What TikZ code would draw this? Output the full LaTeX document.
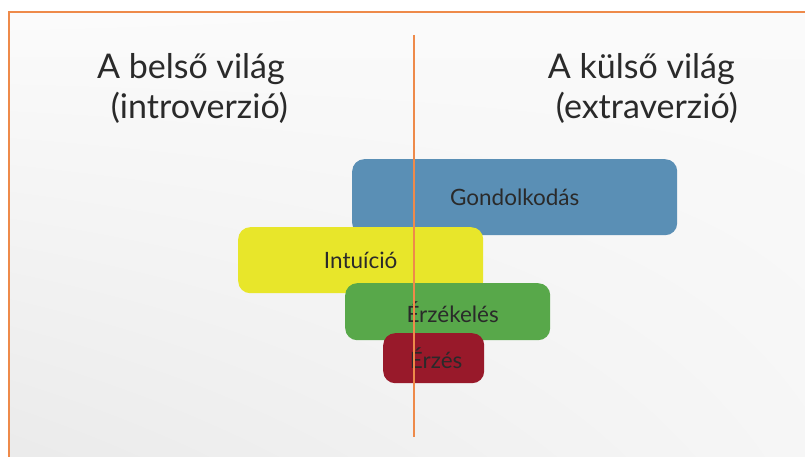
\documentclass[tikz,border=0pt]{standalone}
\usepackage{fontspec}
\usetikzlibrary{shadings}
\setmainfont{Lato}
\definecolor{rahmen}{HTML}{EE8A4A}
\definecolor{denken}{HTML}{5A8FB5}
\definecolor{intui}{HTML}{E8E62A}
\definecolor{sinne}{HTML}{58A84A}
\definecolor{fuehl}{HTML}{98192A}
\definecolor{schrift}{HTML}{2A2A2A}
\begin{document}
\begin{tikzpicture}[x=1pt,y=-1pt,
    box/.style={rounded corners=12pt, inner sep=0pt, anchor=north west,
      text=schrift, font=\fontsize{22.5}{26}\selectfont},
    titel/.style={text=schrift, inner sep=0pt, anchor=base east, font=\fontsize{34}{40}\selectfont}]
    \useasboundingbox (0,0) rectangle (805,457);
    % Hintergrund und Rahmen
    \shade[upper left=gray!3, lower left=gray!16, upper right=gray!4, lower right=gray!7]
      (10,12) rectangle (805,457);
    \draw[rahmen, line width=2pt] (9,457) -- (9,12) -- (805,12);

    % Ueberschriften
    \node[titel] (innen) at (285,79) {A belső világ};
    \node[titel] (introv) at (288,119) {(introverzió)};
    \node[titel] (aussen) at (735,79) {A külső világ};
    \node[titel] (extrav) at (738,119) {(extraverzió)};

    % Funktionen
    \node[box, fill=denken, minimum width=325pt, minimum height=76pt] (gond) at (352,159) {Gondolkodás};
    \node[box, fill=intui, minimum width=245pt, minimum height=66pt] (intu) at (238,227) {Intuíció};
    \node[box, fill=sinne, minimum width=205pt, minimum height=57pt] (erzek) at (345,283) {\hspace{10pt}Érzékelés};
    \node[box, fill=fuehl, minimum width=101pt, minimum height=50pt] (erzes) at (383,333) {\hspace{5pt}Érzés};

    % Trennlinie
    \coordinate (oben) at (414,35);
    \coordinate (unten) at (414,437);
    \draw[rahmen, line width=1.5pt] (oben) -- (unten);
\end{tikzpicture}
\end{document}
